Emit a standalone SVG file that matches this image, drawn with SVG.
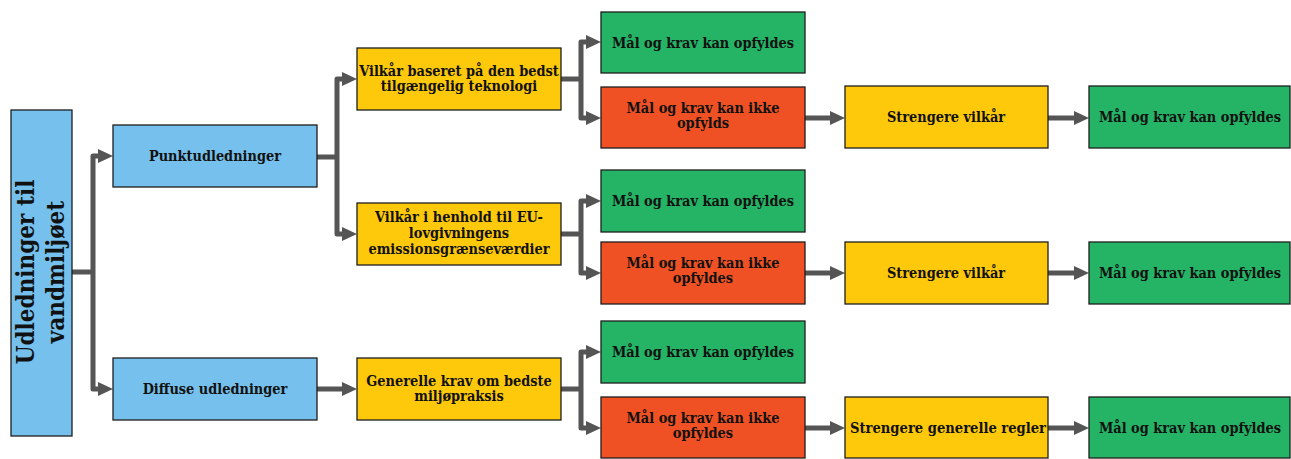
<svg xmlns="http://www.w3.org/2000/svg" width="1291" height="459" viewBox="0 0 1291 459">
<style>
.box{stroke:#1e1e1e;stroke-width:1.3}
.blue{fill:#75C0EC}.yellow{fill:#FFC90B}.green{fill:#25B466}.red{fill:#F05124}
text{font-family:"DejaVu Serif Condensed","DejaVu Serif",serif;font-stretch:condensed;font-weight:bold;font-size:14.4px;fill:#111;text-anchor:middle}
.big{font-size:24px}
.conn path{fill:none;stroke:#555;stroke-width:5;stroke-linejoin:round}
</style>
<defs>
<marker id="ah" viewBox="0 0 15 14" refX="0" refY="7" markerWidth="15" markerHeight="14" markerUnits="userSpaceOnUse" orient="auto">
<path d="M0,0 L15,7 L0,14 Z" fill="#555"/>
</marker>
</defs>
<g class="conn">
<path d="M72,272 H93"/>
<path d="M93,272 V156 H98" marker-end="url(#ah)"/>
<path d="M93,272 V389 H98" marker-end="url(#ah)"/>
<path d="M317,157 H337"/>
<path d="M337,157 V79 H342" marker-end="url(#ah)"/>
<path d="M337,157 V234 H342" marker-end="url(#ah)"/>
<path d="M317,389 H342" marker-end="url(#ah)"/>
<path d="M561,79 H581"/>
<path d="M581,79 V42 H586" marker-end="url(#ah)"/>
<path d="M581,79 V118 H586" marker-end="url(#ah)"/>
<path d="M561,234 H581"/>
<path d="M581,234 V201 H586" marker-end="url(#ah)"/>
<path d="M581,234 V273 H586" marker-end="url(#ah)"/>
<path d="M561,389 H581"/>
<path d="M581,389 V352 H586" marker-end="url(#ah)"/>
<path d="M581,389 V428 H586" marker-end="url(#ah)"/>
<path d="M805,118 H830" marker-end="url(#ah)"/>
<path d="M1048,118 H1074" marker-end="url(#ah)"/>
<path d="M805,273 H830" marker-end="url(#ah)"/>
<path d="M1048,273 H1074" marker-end="url(#ah)"/>
<path d="M805,428 H830" marker-end="url(#ah)"/>
<path d="M1048,428 H1074" marker-end="url(#ah)"/>
</g>
<g id="root">
<rect class="box blue" x="11" y="110" width="61" height="326"/>
<g transform="translate(42,272) rotate(-90)">
<text class="big" x="0" y="-8">Udledninger til</text>
<text class="big" x="0" y="22">vandmiljøet</text>
</g>
</g>
<g id="punkt">
<rect class="box blue" x="113" y="125" width="204" height="62"/>
<text x="215" y="161">Punktudledninger</text>
</g>
<g id="diffuse">
<rect class="box blue" x="113" y="358" width="204" height="62"/>
<text x="215" y="394">Diffuse udledninger</text>
</g>
<g id="vilkaar1">
<rect class="box yellow" x="357" y="48" width="204" height="62"/>
<text x="459" y="76">Vilkår baseret på den bedst</text>
<text x="459" y="90.5">tilgængelig teknologi</text>
</g>
<g id="vilkaar2">
<rect class="box yellow" x="357" y="203" width="204" height="62"/>
<text x="459" y="222">Vilkår i henhold til EU-</text>
<text x="459" y="238">lovgivningens</text>
<text x="459" y="254">emissionsgrænseværdier</text>
</g>
<g id="generelle">
<rect class="box yellow" x="357" y="358" width="204" height="62"/>
<text x="459" y="386">Generelle krav om bedste</text>
<text x="459" y="401">miljøpraksis</text>
</g>
<g id="g1">
<rect class="box green" x="601" y="12" width="204" height="61"/>
<text x="703" y="48">Mål og krav kan opfyldes</text>
</g>
<g id="r1">
<rect class="box red" x="601" y="87" width="204" height="61"/>
<text x="703" y="113">Mål og krav kan ikke</text>
<text x="703" y="128">opfylds</text>
</g>
<g id="s1">
<rect class="box yellow" x="845" y="86" width="203" height="62"/>
<text x="946" y="122">Strengere vilkår</text>
</g>
<g id="f1">
<rect class="box green" x="1089" y="86" width="201" height="62"/>
<text x="1190" y="122">Mål og krav kan opfyldes</text>
</g>
<g id="g2">
<rect class="box green" x="601" y="170" width="204" height="62"/>
<text x="703" y="206">Mål og krav kan opfyldes</text>
</g>
<g id="r2">
<rect class="box red" x="601" y="242" width="204" height="62"/>
<text x="703" y="268">Mål og krav kan ikke</text>
<text x="703" y="283">opfyldes</text>
</g>
<g id="s2">
<rect class="box yellow" x="845" y="242" width="203" height="62"/>
<text x="946" y="278">Strengere vilkår</text>
</g>
<g id="f2">
<rect class="box green" x="1089" y="242" width="201" height="62"/>
<text x="1190" y="278">Mål og krav kan opfyldes</text>
</g>
<g id="g3">
<rect class="box green" x="601" y="321" width="204" height="62"/>
<text x="703" y="357">Mål og krav kan opfyldes</text>
</g>
<g id="r3">
<rect class="box red" x="601" y="397" width="204" height="61"/>
<text x="703" y="423">Mål og krav kan ikke</text>
<text x="703" y="438">opfyldes</text>
</g>
<g id="s3">
<rect class="box yellow" x="845" y="397" width="203" height="61"/>
<text x="948" y="433" textLength="196" lengthAdjust="spacingAndGlyphs">Strengere generelle regler</text>
</g>
<g id="f3">
<rect class="box green" x="1089" y="397" width="201" height="61"/>
<text x="1190" y="433">Mål og krav kan opfyldes</text>
</g>
</svg>
